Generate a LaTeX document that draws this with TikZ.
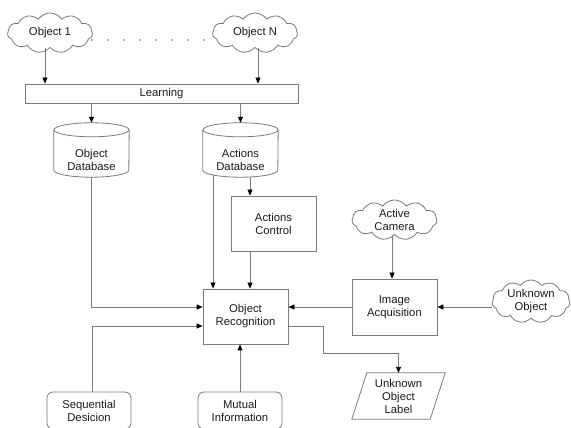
\documentclass[tikz,border=0pt]{standalone}
\usepackage{fontspec}
\setmainfont{Liberation Sans}
\usetikzlibrary{shapes.symbols,arrows.meta,calc}
\definecolor{lncol}{HTML}{7A7A7A}
\definecolor{txt}{HTML}{1A1A1A}
\begin{document}
\begin{tikzpicture}[x=1pt,y=1pt,
  font=\fontsize{11.3}{13}\selectfont, text=txt,
  box/.style={draw=lncol, line width=0.8pt, inner sep=0pt, align=center, minimum width=85pt, minimum height=55pt},
  cl/.style={cloud, cloud puffs=11, cloud puff arc=110, aspect=2.1, draw=lncol, line width=0.8pt, inner sep=0pt, align=center, minimum width=85pt, minimum height=40pt},
  ghost/.style={inner sep=0pt, minimum width=75pt, minimum height=54pt},
  lnst/.style={draw=lncol, line width=0.8pt},
  arr/.style={draw=lncol, line width=0.8pt, -{Triangle[length=6pt,width=5pt,black]}},
  dotline/.style={draw=txt, line width=1.4pt, line cap=round, dash pattern=on 0pt off 16pt}
]
\useasboundingbox (0,0) rectangle (571,428);

% clouds at top
\node[cl] (o1) at (50,395) {Object 1};
\node[cl] (oN) at (255,395) {Object N};
\draw[dotline] ($(o1.east)+(-1,-7)$) -- ($(oN.west)+(-8,-7)$);

% learning
\node[box, minimum width=273pt, minimum height=19pt] (learn) at (161.5,334.5) {Learning};
\draw[arr] ([xshift=-5pt]o1.south) -- ([xshift=-5pt]o1.south |- learn.north);
\draw[arr] ([xshift=3pt]oN.south) -- ([xshift=3pt]oN.south |- learn.north);

% databases
\node[ghost] (odb) at (91.5,278) {};
\node[ghost] (adb) at (240.5,278) {};
\foreach \n in {odb,adb}{
  \draw[lnst] ([yshift=-7pt]\n.north west) -- ([yshift=7pt]\n.south west)
     arc[start angle=180, end angle=360, x radius=37.5pt, y radius=7pt]
     -- ([yshift=-7pt]\n.north east);
  \draw[lnst] ([yshift=-7pt]\n.north) ellipse[x radius=37.5pt, y radius=7pt];
}
\node[align=center, inner sep=0pt] (odbt) at (91.5,268) {Object\\Database};
\node[align=center, inner sep=0pt] (adbt) at (240.5,268) {Actions\\Database};
\draw[arr] (learn.south -| odb.north) -- (odb.north);
\draw[arr] (learn.south -| adb.north) -- (adb.north);

% actions control
\node[box] (actc) at (273.5,204.5) {Actions\\Control};
\draw[arr] ([xshift=9.5pt]adb.south) -- ([xshift=9.5pt]adb.south |- actc.north);

% object recognition
\node[box] (orec) at (245.5,111.5) {Object\\Recognition};
\draw[arr] ([xshift=-27.5pt,yshift=2.2pt]adb.south) -- ([xshift=-27.5pt]adb.south |- orec.north);
\draw[arr] ([xshift=-23.5pt]actc.south) -- ([xshift=-23.5pt]actc.south |- orec.north);
\draw[arr] (odb.south) |- ([yshift=9.5pt]orec.west);

% image acquisition
\node[box, minimum height=56pt] (imga) at (394.5,121) {Image\\Acquisition};
\draw[arr] (imga.west) -- (imga.west -| orec.east);
\node[cl] (acam) at (394.5,208) {Active\\Camera};
\draw[arr] ([xshift=-2.5pt]acam.south) -- ([xshift=-2.5pt]acam.south |- imga.north);
\node[cl, minimum width=78pt, minimum height=43pt] (unk) at (531,126.5) {Unknown\\Object};
\draw[arr] (unk.west |- imga.east) -- (imga.east);

% bottom boxes
\node[draw=lncol, line width=0.8pt, rounded corners=6pt, minimum width=84pt, minimum height=37pt, inner sep=0pt, align=center] (seq) at (89,17.5) {Sequential\\Desicion};
\node[draw=lncol, line width=0.8pt, rounded corners=6pt, minimum width=84pt, minimum height=37pt, inner sep=0pt, align=center] (mut) at (240,17.5) {Mutual\\Information};
\draw[arr] ([xshift=3pt]seq.north) |- ([yshift=-9.5pt]orec.west);
\draw[arr] (mut.north) -- (mut.north |- orec.south);

% unknown object label (parallelogram)
\node[inner sep=0pt, minimum width=93pt, minimum height=46pt, align=center] (lab) at (398.5,32) {Unknown\\Object\\Label};
\draw[lnst] ([xshift=15pt]lab.north west) -- (lab.north east) -- ([xshift=-15pt]lab.south east) -- (lab.south west) -- cycle;
\draw[arr] ([yshift=-9.5pt]orec.east) -- ++(35,0) -- ++(0,-27) -| (lab.north);
\end{tikzpicture}
\end{document}
